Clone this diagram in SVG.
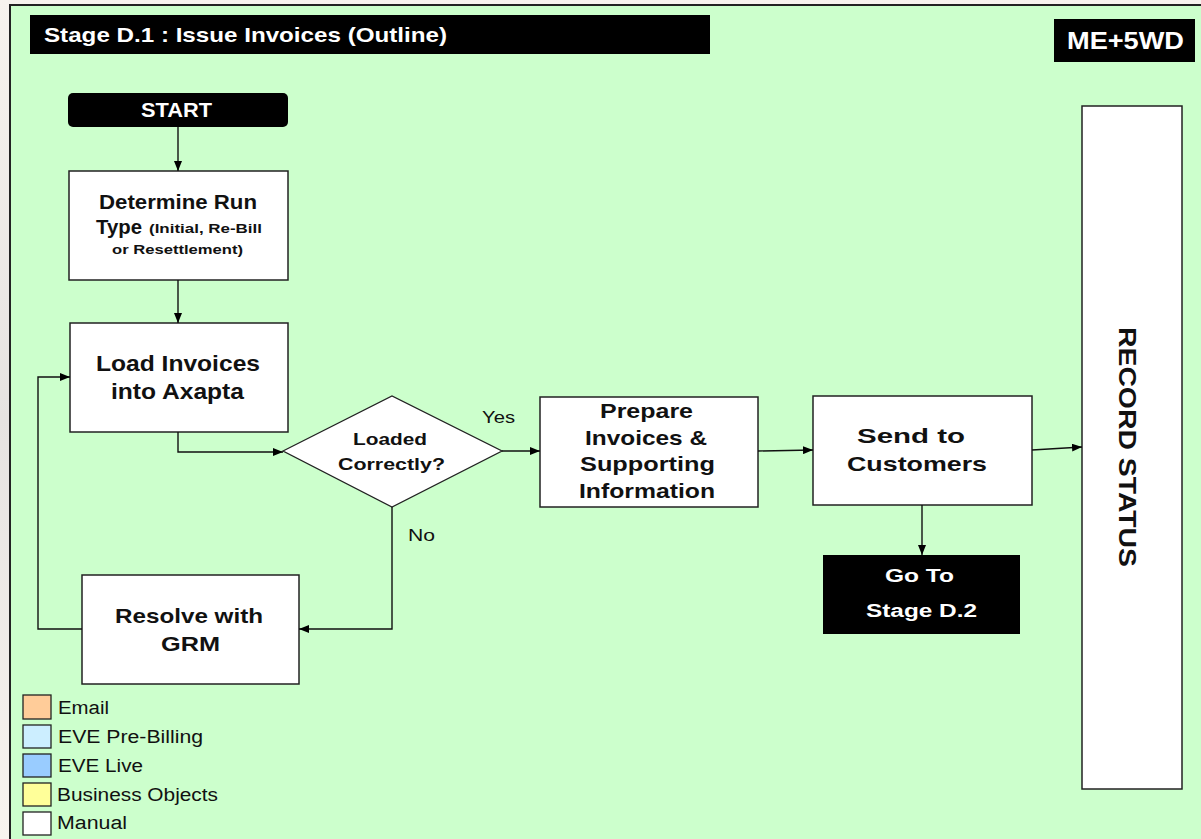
<svg xmlns="http://www.w3.org/2000/svg" width="1201" height="839" viewBox="0 0 1201 839">
<defs>
<marker id="arr" viewBox="0 0 10 8" refX="10" refY="4" markerWidth="10" markerHeight="8" markerUnits="userSpaceOnUse" orient="auto">
<path d="M0,0 L10,4 L0,8 Z" fill="#000"/>
</marker>
<linearGradient id="bg" x1="0" y1="0" x2="0" y2="1">
<stop offset="0" stop-color="#f7f3ee"/>
<stop offset="0.5" stop-color="#e6e3e1"/>
<stop offset="1" stop-color="#f8f4ef"/>
</linearGradient>
</defs>
<style>
.box{fill:#fff;stroke:#222;stroke-width:1.5}
.blk{fill:#000}
.b{font-family:"Liberation Sans",Arial,sans-serif;font-weight:bold;fill:#111}
.w{font-family:"Liberation Sans",Arial,sans-serif;font-weight:bold;fill:#fff}
.r{font-family:"Liberation Sans",Arial,sans-serif;fill:#111}
.ln{fill:none;stroke:#111;stroke-width:1.4}
.lg{stroke:#222;stroke-width:1.3}
</style>
<rect x="0" y="0" width="1201" height="839" fill="url(#bg)"/>
<rect x="10" y="5" width="1195" height="840" fill="#ccffcc" stroke="#222" stroke-width="2"/>

<g id="title">
<rect x="30" y="15" width="680" height="39" class="blk"/>
<text x="44" y="42" class="w" font-size="21" textLength="403" lengthAdjust="spacingAndGlyphs">Stage D.1 : Issue Invoices (Outline)</text>
</g>
<g id="me5wd">
<rect x="1054" y="19" width="141" height="43" class="blk"/>
<text x="1067" y="49" class="w" font-size="23" textLength="117" lengthAdjust="spacingAndGlyphs">ME+5WD</text>
</g>

<g id="start">
<rect x="68" y="93" width="220" height="34" rx="5" class="blk"/>
<text x="141" y="117" class="w" font-size="20" textLength="71" lengthAdjust="spacingAndGlyphs">START</text>
</g>

<g id="determine">
<rect x="69" y="171" width="219" height="109" class="box"/>
<text x="99" y="209" class="b" font-size="20" textLength="158" lengthAdjust="spacingAndGlyphs">Determine  Run</text>
<text x="96" y="234" class="b" font-size="20" textLength="46" lengthAdjust="spacingAndGlyphs">Type</text>
<text x="149" y="233" class="b" font-size="13.5" textLength="113" lengthAdjust="spacingAndGlyphs">(Initial, Re-Bill</text>
<text x="112" y="254" class="b" font-size="13.5" textLength="131" lengthAdjust="spacingAndGlyphs">or Resettlement)</text>
</g>

<g id="load">
<rect x="70" y="323" width="218" height="109" class="box"/>
<text x="96" y="371" class="b" font-size="22" textLength="164" lengthAdjust="spacingAndGlyphs">Load Invoices</text>
<text x="111" y="399" class="b" font-size="22" textLength="133" lengthAdjust="spacingAndGlyphs">into Axapta</text>
</g>

<g id="decision">
<polygon points="283,451 392,396 502,451 392,507" fill="#fff" stroke="#222" stroke-width="1.3"/>
<text x="353" y="445" class="b" font-size="17" textLength="74" lengthAdjust="spacingAndGlyphs">Loaded</text>
<text x="338" y="470" class="b" font-size="17" textLength="107" lengthAdjust="spacingAndGlyphs">Correctly?</text>
</g>

<g id="prepare">
<rect x="540" y="397" width="218" height="110" class="box"/>
<text x="600" y="418" class="b" font-size="21" textLength="93" lengthAdjust="spacingAndGlyphs">Prepare</text>
<text x="585" y="445" class="b" font-size="21" textLength="122" lengthAdjust="spacingAndGlyphs">Invoices &amp;</text>
<text x="580" y="471" class="b" font-size="21" textLength="135" lengthAdjust="spacingAndGlyphs">Supporting</text>
<text x="579" y="498" class="b" font-size="21" textLength="136" lengthAdjust="spacingAndGlyphs">Information</text>
</g>

<g id="send">
<rect x="813" y="396" width="219" height="109" class="box"/>
<text x="857" y="443" class="b" font-size="21" textLength="108" lengthAdjust="spacingAndGlyphs">Send to</text>
<text x="847" y="471" class="b" font-size="21" textLength="140" lengthAdjust="spacingAndGlyphs">Customers</text>
</g>

<g id="goto">
<rect x="823" y="555" width="197" height="79" class="blk"/>
<text x="885" y="582" class="w" font-size="18" textLength="69" lengthAdjust="spacingAndGlyphs">Go To</text>
<text x="866" y="617" class="w" font-size="18" textLength="111" lengthAdjust="spacingAndGlyphs">Stage D.2</text>
</g>

<g id="resolve">
<rect x="82" y="575" width="217" height="109" class="box"/>
<text x="115" y="623" class="b" font-size="21" textLength="148" lengthAdjust="spacingAndGlyphs">Resolve with</text>
<text x="161" y="651" class="b" font-size="21" textLength="59" lengthAdjust="spacingAndGlyphs">GRM</text>
</g>

<g id="record">
<rect x="1082" y="106" width="100" height="683" class="box"/>
<text transform="translate(1119,327) rotate(90)" x="0" y="0" class="b" font-size="23" textLength="240" lengthAdjust="spacingAndGlyphs">RECORD STATUS</text>
</g>

<g id="connectors">
<line x1="178" y1="127" x2="178" y2="171" class="ln" marker-end="url(#arr)"/>
<line x1="178" y1="280" x2="178" y2="323" class="ln" marker-end="url(#arr)"/>
<polyline points="178,432 178,452 283,452" class="ln" marker-end="url(#arr)"/>
<line x1="502" y1="451" x2="540" y2="451" class="ln" marker-end="url(#arr)"/>
<polyline points="392,507 392,629 299,629" class="ln" marker-end="url(#arr)"/>
<polyline points="82,629 38,629 38,377 70,377" class="ln" marker-end="url(#arr)"/>
<line x1="758" y1="451" x2="813" y2="450" class="ln" marker-end="url(#arr)"/>
<line x1="1032" y1="450" x2="1082" y2="447" class="ln" marker-end="url(#arr)"/>
<line x1="922" y1="505" x2="922" y2="555" class="ln" marker-end="url(#arr)"/>
<text x="482" y="423" class="r" font-size="17" textLength="33" lengthAdjust="spacingAndGlyphs">Yes</text>
<text x="408" y="541" class="r" font-size="17" textLength="27" lengthAdjust="spacingAndGlyphs">No</text>
</g>

<g id="legend">
<rect x="23" y="695" width="28" height="24" fill="#ffcc99" class="lg"/>
<text x="58" y="714" class="r" font-size="18" textLength="51" lengthAdjust="spacingAndGlyphs">Email</text>
<rect x="23" y="725" width="28" height="23" fill="#cceeff" class="lg"/>
<text x="58" y="743" class="r" font-size="18" textLength="145" lengthAdjust="spacingAndGlyphs">EVE Pre-Billing</text>
<rect x="23" y="754" width="28" height="23" fill="#99ccff" class="lg"/>
<text x="58" y="772" class="r" font-size="18" textLength="85" lengthAdjust="spacingAndGlyphs">EVE Live</text>
<rect x="23" y="783" width="28" height="23" fill="#ffff99" class="lg"/>
<text x="57" y="801" class="r" font-size="18" textLength="161" lengthAdjust="spacingAndGlyphs">Business Objects</text>
<rect x="23" y="812" width="28" height="23" fill="#ffffff" class="lg"/>
<text x="57" y="829" class="r" font-size="18" textLength="70" lengthAdjust="spacingAndGlyphs">Manual</text>
</g>
</svg>
